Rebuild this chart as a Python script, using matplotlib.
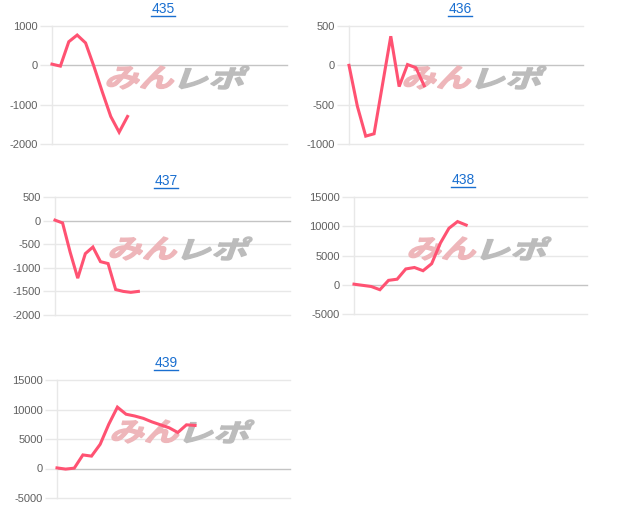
import matplotlib.pyplot as plt
from matplotlib.lines import Line2D
from matplotlib.patches import PathPatch
from matplotlib.textpath import TextPath
from matplotlib.font_manager import FontProperties
from matplotlib.transforms import Affine2D

plt.rcParams["font.family"] = ["Liberation Sans", "DejaVu Sans"]

# 各パネルのデータ
titles = ["435", "436", "437", "438", "439"]

values_435 = [30, -20, 600, 770, 570, -30, -680, -1300, -1700, -1300]
values_436 = [0, -520, -900, -870, -250, 370, -270, 10, -30, -260]
values_437 = [10, -50, -670, -1220, -700, -560, -870, -910, -1460, -1500, -1520, -1500]
values_438 = [100, -100, -300, -850, 750, 950, 2700, 2950, 2400, 3600,
              7100, 9650, 10800, 10200]
values_439 = [100, -100, 60, 2300, 2100, 4100, 7500, 10400, 9200, 8900,
              8500, 7900, 7400, 6900, 6100, 7400, 7300]

series = [values_435, values_436, values_437, values_438, values_439]
y_ranges = [(-2000, 1000), (-1000, 500), (-2000, 500), (-5000, 15000), (-5000, 15000)]
y_steps = [1000, 500, 500, 5000, 5000]
n_intervals = [28, 28, 31, 27, 27]

# 配置（ピクセル: left, right, top, bottom）
W, H = 620, 526
boxes = [
    (52, 287, 26, 144),
    (349, 583, 26, 144),
    (55, 290, 197, 315),
    (354, 587, 197, 314),
    (57, 290, 380, 498),
]
title_pos = [(163, 9), (460, 9), (166, 181), (463, 180), (166, 363)]

LINE_COLOR = "#ff5272"
GRID_COLOR = "#e8e8e8"
ZERO_COLOR = "#c4c4c4"
TICK_COLOR = "#606060"
TITLE_COLOR = "#1a6fd0"

logo_font = FontProperties(family="Noto Sans CJK JP", weight="bold")


def add_logo(ax, text, color, x0, x1, y_top, y_bottom):
    """透かしロゴ（斜体風）をピクセル指定の箱に収めて描く"""
    path = TextPath((0, 0), text, size=30, prop=logo_font)
    path = Affine2D().skew_deg(14, 0).transform_path(path)
    ext = path.get_extents()
    sx = (x1 - x0) / ext.width
    sy = (y_bottom - y_top) / ext.height
    tr = (Affine2D().translate(-ext.x0, -ext.y0).scale(sx, sy)
          .translate(x0, H - y_bottom))
    patch = PathPatch(path, transform=tr, facecolor=color, edgecolor=color,
                      linewidth=1.0, zorder=2, clip_on=False)
    ax.add_patch(patch)


fig = plt.figure(figsize=(W / 100, H / 100), dpi=100)

title_texts = []
for i, values in enumerate(series):
    left, right, top, bottom = boxes[i]
    ax = fig.add_axes([left / W, 1 - bottom / H, (right - left) / W, (bottom - top) / H])

    lo, hi = y_ranges[i]
    ticks = list(range(lo, hi + 1, y_steps[i]))
    ax.set_ylim(lo, hi)
    ax.set_xlim(0, n_intervals[i])
    ax.set_yticks(ticks)
    ax.set_yticklabels([str(t) for t in ticks])
    ax.set_xticks([])

    for t in ticks:
        color = ZERO_COLOR if t == 0 else GRID_COLOR
        ax.axhline(t, color=color, linewidth=1, zorder=1, clip_on=False)

    for side in ["top", "right", "bottom"]:
        ax.spines[side].set_visible(False)
    ax.spines["left"].set_color(GRID_COLOR)
    ax.spines["left"].set_linewidth(1)

    ax.tick_params(axis="y", length=9, width=1, color=GRID_COLOR,
                   labelcolor=TICK_COLOR, labelsize=8, pad=1)

    ax.plot(range(len(values)), values, color=LINE_COLOR, linewidth=2.2,
            solid_joinstyle="miter", zorder=4, clip_on=False)

    # 透かしロゴ
    add_logo(ax, "みん", "#eeb6ba", left + 55, left + 122, top + 40, top + 63)
    add_logo(ax, "レポ", "#bcbcbc", left + 127, left + 197, top + 40, top + 63)

    tx, ty = title_pos[i]
    txt = fig.text(tx / W, 1 - ty / H, titles[i], ha="center", va="center",
                   fontsize=10, color=TITLE_COLOR)
    title_texts.append(txt)

# タイトルの下線
fig.canvas.draw()
renderer = fig.canvas.get_renderer()
for txt in title_texts:
    bb = txt.get_window_extent(renderer)
    y = (bb.y0 + 0.5) / H
    fig.add_artist(Line2D([bb.x0 / W, bb.x1 / W], [y, y],
                          color=TITLE_COLOR, linewidth=1, transform=fig.transFigure))

fig.savefig("out.png", dpi=100)
